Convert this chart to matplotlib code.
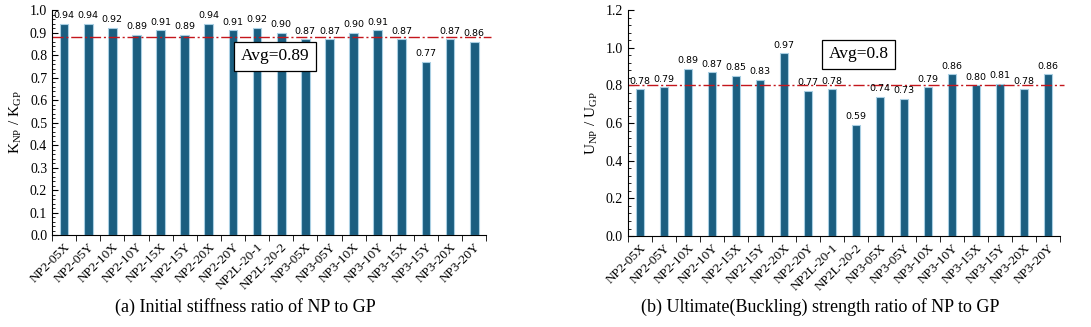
import matplotlib
matplotlib.use("Agg")
import matplotlib.pyplot as plt
import numpy as np
from matplotlib.ticker import MultipleLocator

specimens = ["NP2-05X", "NP2-05Y", "NP2-10X", "NP2-10Y", "NP2-15X", "NP2-15Y",
             "NP2-20X", "NP2-20Y", "NP2L-20-1", "NP2L-20-2", "NP3-05X", "NP3-05Y",
             "NP3-10X", "NP3-10Y", "NP3-15X", "NP3-15Y", "NP3-20X", "NP3-20Y"]
k_ratio = [0.94, 0.94, 0.92, 0.89, 0.91, 0.89, 0.94, 0.91, 0.92, 0.90,
           0.87, 0.87, 0.90, 0.91, 0.87, 0.77, 0.87, 0.86]
u_ratio = [0.78, 0.79, 0.89, 0.87, 0.85, 0.83, 0.97, 0.77, 0.78, 0.59,
           0.74, 0.73, 0.79, 0.86, 0.80, 0.81, 0.78, 0.86]
k_avg = 0.88
u_avg = 0.80
k_avg_text = "Avg=0.89"
u_avg_text = "Avg=0.8"

serif = "Liberation Serif"
bar_fill = "#1b5e80"
bar_edge = "#a9cfe3"

plt.rcParams["mathtext.fontset"] = "custom"
plt.rcParams["mathtext.rm"] = serif

fig = plt.figure(figsize=(10.91, 3.27), dpi=100)
ax1 = fig.add_axes([0.0477, 0.2813, 0.398, 0.688])
ax2 = fig.add_axes([0.5756, 0.278, 0.396, 0.691])


def draw_panel(ax, vals, avg, avg_text, ymax, major, minor, ylab_top, ylab_bot,
               box_xy, caption, cap_x):
    x = np.arange(len(vals))
    ax.bar(x, vals, width=0.36, color=bar_fill, edgecolor=bar_edge, linewidth=0.8)
    for xi, v in zip(x, vals):
        ax.text(xi, v + ymax * 0.016, f"{v:.2f}", ha="center", va="bottom",
                fontsize=6.8, family="DejaVu Sans")
    ax.axhline(avg, color="#c4161c", lw=1.0, ls=(0, (8, 2, 1.5, 2)),
               xmin=0, xmax=1.01, clip_on=False)
    ax.text(box_xy[0], box_xy[1], avg_text, transform=ax.transData,
            ha="center", va="center", fontsize=12.5, family=serif,
            bbox=dict(boxstyle="square,pad=0.38", fc="white", ec="black", lw=0.9))

    ax.set_xlim(-0.5, len(vals) - 0.5)
    ax.set_ylim(0, ymax)
    ax.yaxis.set_major_locator(MultipleLocator(major))
    ax.yaxis.set_minor_locator(MultipleLocator(minor))
    ax.yaxis.set_major_formatter(matplotlib.ticker.FormatStrFormatter("%.1f"))
    ax.tick_params(axis="y", direction="in", length=4, labelsize=10)
    ax.tick_params(axis="y", which="minor", direction="in", length=2)
    for lab in ax.get_yticklabels():
        lab.set_family(serif)

    # category labels at bar centres, tick marks on the boundaries
    ax.set_xticks(x)
    ax.set_xticklabels(specimens, rotation=45, ha="right", rotation_mode="anchor",
                       fontsize=9.5, family=serif)
    ax.tick_params(axis="x", which="major", length=0, pad=4)
    ax.set_xticks(np.arange(len(vals) + 1) - 0.5, minor=True)
    ax.tick_params(axis="x", which="minor", direction="out", length=4)

    for s in ["top", "right"]:
        ax.spines[s].set_visible(False)

    ax.set_ylabel(f"{ylab_top}$_{{\\rm NP}}$ / {ylab_bot}$_{{\\rm GP}}$",
                  family=serif, fontsize=11)
    fig.text(cap_x, 0.06, caption, ha="center", va="center",
             fontsize=13, family=serif)


draw_panel(ax1, k_ratio, k_avg, k_avg_text, 1.0, 0.1, 0.02, "K", "K",
           (8.75, 0.795), "(a) Initial stiffness ratio of NP to GP", 0.225)
draw_panel(ax2, u_ratio, u_avg, u_avg_text, 1.2, 0.2, 0.04, "U", "U",
           (9.1, 0.966), "(b) Ultimate(Buckling) strength ratio of NP to GP", 0.752)

fig.savefig("out.png", dpi=100)
